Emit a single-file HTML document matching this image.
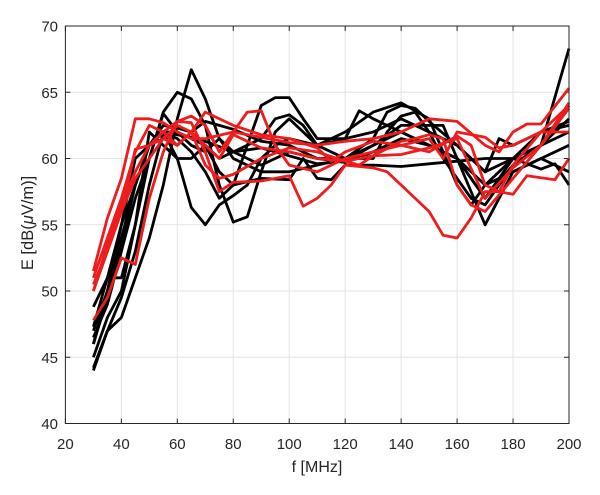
<!DOCTYPE html>
<html><head><meta charset="utf-8"><style>
body{margin:0;background:#fff}
svg text{font-family:"Liberation Sans",Arial,sans-serif;fill:#262626}
</style></head><body>
<svg id="s" width="600" height="490" xmlns="http://www.w3.org/2000/svg">
<rect x="0" y="0" width="600" height="490" fill="#fff"/>
<g id="grid"></g>
<g id="lines" fill="none" stroke-width="2.8" stroke-linejoin="round"></g>
<rect x="65.4" y="26" width="503.6" height="397.5" fill="none" stroke="#262626" stroke-width="1"/>
<g id="ticks" font-size="15"></g>
<text x="317" y="472" font-size="16" text-anchor="middle">f [MHz]</text>
<text transform="translate(33,223) rotate(-90)" font-size="16.5" text-anchor="middle">E [dB(<tspan font-style="italic">μ</tspan>V/m)]</text>
</svg>
<script>
var X=f=>65.4+(f-20)*503.6/180, Y=v=>423.5-(v-40)*13.25;
var ns="http://www.w3.org/2000/svg";
function el(p,t,a,txt){var e=document.createElementNS(ns,t);for(var k in a)e.setAttribute(k,a[k]);if(txt!==undefined)e.textContent=txt;document.getElementById(p).appendChild(e);}
for(var f=20;f<=200;f+=20){el('grid','line',{x1:X(f),x2:X(f),y1:26,y2:423.5,stroke:'#e3e3e3','stroke-width':1});
el('ticks','text',{x:X(f),y:449,'text-anchor':'middle'},f);
el('grid','line',{x1:X(f),x2:X(f),y1:423.5,y2:418.5,stroke:'#262626'});el('grid','line',{x1:X(f),x2:X(f),y1:26,y2:31,stroke:'#262626'});}
for(var v=40;v<=70;v+=5){el('grid','line',{x1:65.4,x2:569,y1:Y(v),y2:Y(v),stroke:'#e3e3e3','stroke-width':1});
el('ticks','text',{x:58,y:Y(v)+5.5,'text-anchor':'end'},v);
el('grid','line',{x1:65.4,x2:70.4,y1:Y(v),y2:Y(v),stroke:'#262626'});el('grid','line',{x1:564,x2:569,y1:Y(v),y2:Y(v),stroke:'#262626'});}
var B=[
"30:44,35:47,40:48,45:51,50:54,55:58,60:63,65:66.7,70:64.5,75:61.5,80:60.5,85:60,90:59.5,95:60,100:60.5,110:60,120:60,130:61,140:62,150:61,160:60,170:55,175:57,180:59,190:60,200:61",
"30:45,35:48,40:50,45:55,50:60,55:63.5,60:65,65:64.5,70:62.5,75:58,80:55.2,85:55.6,90:59,95:62,100:63,110:61,120:62,130:63.5,140:64.2,150:63,160:58,165:56.5,170:58,180:60,190:61,200:68.3",
"30:46,35:50,40:55,45:60,50:61,55:62,60:60,65:56.3,70:55,75:56.5,80:57.2,85:58,90:60,95:61,100:61.5,110:61,120:61.5,130:62,140:63,150:62,160:61,170:59,180:60,190:62,200:62.8",
"30:47,35:50,40:54,45:58,50:61,55:62,60:61.5,65:60.5,70:59,75:57,80:58,85:61,90:64,95:64.6,100:64.6,105:63,110:61.5,120:61.5,125:63.6,130:63,140:62,150:61,160:60,170:57,180:60,190:61,200:62",
"30:48.8,35:51,40:51,45:55,50:62,55:61,60:60,65:60,70:61,75:59,80:58,90:58.5,100:58.4,105:60,110:58.5,115:58.4,120:59.5,130:59.5,140:59.4,150:59.6,160:59.8,170:60,180:60,190:59.2,195:59.6,200:58",
"30:46.5,35:49,40:53,45:57,50:60,55:63.4,60:62,65:61.5,70:61,75:60,80:60.5,90:61.5,95:63,100:63.3,105:62.5,110:61,120:60,130:60,135:62,140:63.2,145:63.5,150:62,155:60,160:58.5,165:57,170:56.5,175:58,180:59.5,190:61,195:62,200:63",
"30:44.2,35:47,40:49.5,45:53,50:58,55:62,60:62,65:61,70:60.5,75:61.5,80:60,90:59,100:59,110:59.5,120:60,130:61.5,135:63.5,140:64,145:63.8,150:62.8,160:61,170:59,175:61.5,180:61,190:62,200:62.5",
"30:47.3,35:51,40:55,45:58,50:61,55:62.5,60:62.3,65:62,70:62.8,75:62.5,80:62.2,90:61.3,100:61,110:60,120:59.7,130:60.5,140:61.5,150:61,160:60,170:58,180:59,190:60,200:59",
"30:46,35:49.5,40:53.5,45:58,50:61,55:62,60:61.8,65:61.6,70:61.3,80:60.5,90:60.8,100:60.2,110:59.6,120:59.8,130:61,140:62.5,150:62.5,155:62.5,160:60,170:57,180:59.5,190:61,200:64"];
var R=[
"30:51.5,35:55.5,40:58.5,45:63,50:63,55:62.7,60:62,65:61.5,70:61.5,80:62,90:61.6,100:61.2,110:61,120:61.3,130:61.5,140:62,150:63,160:62.8,170:61,175:60.5,180:62,185:62.6,190:62.6,200:65.3",
"30:50,35:53,40:56,45:60.7,50:61,55:62,60:62.8,65:62.7,70:60.5,75:57.5,80:58.2,90:58.3,100:58.7,105:56.4,110:57,115:58,120:59.5,130:59.3,135:59,140:58,150:56,155:54.2,160:54,165:55.5,170:57.5,175:57.5,180:57.3,185:58.7,195:58.4,200:60",
"30:47.8,35:49.5,40:52.5,45:52,50:57,55:60.5,60:62.8,65:63.2,70:62.5,75:60.5,80:62,85:63.5,90:63.6,95:61,100:59.5,110:59,120:60,130:60.5,140:61,150:61.5,155:60,160:62,170:61.6,175:60.8,180:61,190:62,200:62",
"30:51,35:54,40:57,45:60.5,50:62.5,55:62,60:61,65:62,70:63.5,80:62.5,90:61.8,100:61.5,110:60.8,115:59.8,120:60.5,130:61.3,140:61,150:60.5,160:61.7,165:61,170:58,175:57.5,180:59.5,190:62,200:64",
"30:50.5,35:53,40:56,45:58.5,50:60,55:61.5,60:62.5,65:62,70:61,75:60,80:61.8,90:60.8,100:60.5,110:60,120:59.8,125:59.5,130:60.2,140:60.3,150:60.8,160:61.5,170:57,180:59.3,190:61,200:64.2",
"30:50,35:53.5,40:56.5,45:59,50:61,55:61.5,60:61,65:62,70:59.5,75:58.5,80:58.8,90:60,100:60.8,110:60.5,120:59.8,130:60.2,140:61.3,145:61.5,150:61.8,155:61.5,160:58,165:56.5,170:56,180:58.5,190:61,200:63.8"];
function draw(a,c){a.forEach(s=>{var p=s.split(',').map(q=>{var t=q.split(':');return X(+t[0]).toFixed(1)+','+Y(+t[1]).toFixed(1)}).join(' ');el('lines','polyline',{points:p,stroke:c});});}
draw(B,'#000');draw(R,'#ee1c1c');
</script>
</body></html>
